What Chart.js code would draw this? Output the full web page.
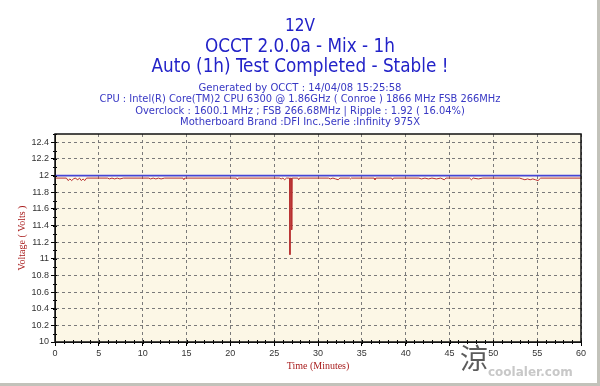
<!DOCTYPE html>
<html>
<head>
<meta charset="utf-8">
<script src="https://cdn.jsdelivr.net/npm/chart.js@4/dist/chart.umd.min.js"></script>
<style>
  html, body { margin: 0; padding: 0; background: #ffffff; }
  canvas { display: block; }
</style>
</head>
<body>
<canvas id="c" width="600" height="386"></canvas>
<script>
// ---------- DATA ----------
const titleLines = ["12V", "OCCT 2.0.0a - Mix - 1h", "Auto (1h) Test Completed - Stable !"];
const infoLines = [
  "Generated by OCCT : 14/04/08 15:25:58",
  "CPU : Intel(R) Core(TM)2 CPU 6300 @ 1.86GHz ( Conroe ) 1866 MHz FSB 266MHz",
  "Overclock : 1600.1 MHz ; FSB 266.68MHz | Ripple : 1.92 ( 16.04%)",
  "Motherboard Brand :DFI Inc.,Serie :Infinity 975X"
];
const xAxisTitle = "Time (Minutes)";
const yAxisTitle = "Voltage ( Volts )";
const xTicks = [0, 5, 10, 15, 20, 25, 30, 35, 40, 45, 50, 55, 60];
const yTicks = [10, 10.2, 10.4, 10.6, 10.8, 11, 11.2, 11.4, 11.6, 11.8, 12, 12.2, 12.4];

const blueTime = [0, 60];
const blueVolts = [12.0, 12.0];

const redTime = [
  0, 1.3, 1.5, 1.7, 1.9, 2.1, 2.3, 2.6, 2.8, 3.0, 3.2, 3.4, 3.6,
  6.0, 6.2, 6.5, 6.8, 7.1, 7.4, 7.8,
  10.7, 10.9, 11.2, 11.5, 11.8, 12.1, 12.5,
  14.6, 14.7, 14.8,
  20.7, 20.8, 20.9,
  25.6, 25.8, 26.0, 26.2, 26.4, 26.75, 26.8, 26.85, 26.95, 27.0, 27.05,
  27.7, 27.8, 27.9,
  31.2, 31.4, 31.7, 32.0, 32.3, 32.5,
  33.6, 33.7, 33.8,
  36.4, 36.5, 36.6,
  38.4, 38.5, 38.6,
  41.5, 41.8, 42.2, 42.6, 43.0, 43.5, 44.0, 44.4, 44.6,
  47.3, 47.5, 47.7, 48.3, 48.8,
  53.0, 53.3, 53.6, 53.9, 54.2, 54.5, 54.8, 55.1, 55.4,
  60
];
const redVolts = [
  11.97, 11.97, 11.94, 11.96, 11.94, 11.96, 11.97, 11.95, 11.97, 11.94, 11.96, 11.94, 11.97,
  11.97, 11.96, 11.97, 11.96, 11.97, 11.96, 11.97,
  11.97, 11.96, 11.97, 11.96, 11.97, 11.96, 11.97,
  11.97, 11.95, 11.97,
  11.97, 11.95, 11.97,
  11.97, 11.96, 11.97, 11.95, 11.97, 11.97, 11.05, 11.97, 11.97, 11.35, 11.97,
  11.97, 11.95, 11.97,
  11.97, 11.96, 11.97, 11.96, 11.95, 11.97,
  11.97, 11.96, 11.97,
  11.97, 11.95, 11.97,
  11.97, 11.95, 11.97,
  11.97, 11.96, 11.97, 11.96, 11.97, 11.96, 11.97, 11.95, 11.97,
  11.97, 11.95, 11.97, 11.96, 11.97,
  11.97, 11.96, 11.95, 11.96, 11.95, 11.96, 11.95, 11.94, 11.97,
  11.97
];

// ---------- LAYOUT / STYLE ----------
const PLOT_LEFT = 55, PLOT_RIGHT = 581, PLOT_TOP = 134, PLOT_BOTTOM = 342;
const titleWidths = [30, 190, 297];
const titleY = [27, 47, 67];
const infoWidths = [203, 401, 330, 240];
const infoY = [88, 99.5, 111, 122.5];
const FONT = '"DejaVu Sans Condensed", "DejaVu Sans", sans-serif';

function fitText(ctx, text, cx, cy, size, target, color) {
  ctx.font = size + 'px ' + FONT;
  const w = ctx.measureText(text).width;
  const s = size * target / w;
  ctx.font = s.toFixed(2) + 'px ' + FONT;
  ctx.fillStyle = color;
  ctx.textAlign = 'center';
  ctx.textBaseline = 'middle';
  ctx.fillText(text, cx, cy);
}

const decor = {
  id: 'decor',
  beforeDraw(chart) {
    const ctx = chart.ctx, a = chart.chartArea;
    ctx.save();
    ctx.fillStyle = '#ffffff';
    ctx.fillRect(0, 0, chart.width, chart.height);
    ctx.fillStyle = '#fcf7e6';
    ctx.fillRect(a.left, a.top, a.right - a.left, a.bottom - a.top);
    ctx.restore();
  },
  afterDraw(chart) {
    const ctx = chart.ctx, a = chart.chartArea;
    const xs = chart.scales.x, ys = chart.scales.y;
    ctx.save();
    // headers
    titleLines.forEach((t, i) => fitText(ctx, t, 300, titleY[i], 16, titleWidths[i], '#2222c8'));
    infoLines.forEach((t, i) => fitText(ctx, t, 300, infoY[i], 10, infoWidths[i], '#3838c4'));
    // minor ticks
    ctx.strokeStyle = '#000';
    ctx.lineWidth = 1;
    ctx.beginPath();
    for (let m = 0; m <= 60; m += 1) {
      const px = Math.round(xs.getPixelForValue(m)) + 0.5;
      ctx.moveTo(px, a.bottom - 2);
      ctx.lineTo(px, a.bottom + 2);
    }
    for (let v = 100; v <= 125; v += 1) {
      const py = Math.round(ys.getPixelForValue(v / 10)) + 0.5;
      ctx.moveTo(a.left - 2, py);
      ctx.lineTo(a.left + 2, py);
    }
    ctx.stroke();
    // frame
    ctx.lineWidth = 1.5;
    ctx.strokeStyle = '#111';
    ctx.strokeRect(a.left, a.top, a.right - a.left, a.bottom - a.top);
    // watermark
    ctx.font = '28px "Noto Sans CJK SC"';
    ctx.fillStyle = 'rgba(50,50,50,0.8)';
    ctx.textAlign = 'center';
    ctx.textBaseline = 'middle';
    ctx.fillText('涼', 474, 358);
    ctx.font = 'bold 12px "DejaVu Sans", sans-serif';
    ctx.fillStyle = '#c8c8c8';
    ctx.textAlign = 'left';
    ctx.fillText('coolaler.com', 488, 373);
    // outer grey frame
    ctx.fillStyle = '#c2c2ba';
    ctx.fillRect(597, 0, 3, 386);
    ctx.fillRect(0, 383, 600, 3);
    ctx.restore();
  }
};

const gridCommon = {
  color: '#7a7a7a',
  lineWidth: 1,
  drawTicks: true,
  tickLength: 4,
  tickColor: '#000',
  tickBorderDash: [],
  tickWidth: 1
};
const borderCommon = { display: true, color: '#111', width: 1, dash: [3, 3] };

new Chart(document.getElementById('c'), {
  type: 'line',
  data: {
    datasets: [
      {
        label: 'ref',
        data: blueTime.map((t, i) => ({ x: t, y: blueVolts[i] })),
        borderColor: '#4646d6',
        borderWidth: 1.6,
        pointRadius: 0,
        tension: 0
      },
      {
        label: '12V',
        data: redTime.map((t, i) => ({ x: t, y: redVolts[i] })),
        borderColor: '#b83030',
        borderWidth: 1,
        pointRadius: 0,
        tension: 0
      }
    ]
  },
  options: {
    responsive: false,
    animation: false,
    events: [],
    layout: { padding: { top: PLOT_TOP, right: 600 - PLOT_RIGHT, left: 0, bottom: 0 } },
    plugins: {
      legend: { display: false },
      title: { display: false },
      tooltip: { enabled: false }
    },
    scales: {
      x: {
        type: 'linear',
        min: 0,
        max: 60,
        afterBuildTicks: (s) => { s.ticks = xTicks.map(v => ({ value: v })); },
        afterFit: (s) => { s.height = 386 - PLOT_BOTTOM; },
        ticks: { color: '#333', font: { family: '"Liberation Sans", Arial, sans-serif', size: 9 }, padding: 2, maxRotation: 0, autoSkip: false },
        grid: gridCommon,
        border: borderCommon,
        title: { display: true, text: xAxisTitle, color: '#a81c1c', font: { family: '"Liberation Serif", serif', size: 10, lineHeight: 1.2 }, padding: { top: 0, bottom: 14 } }
      },
      y: {
        type: 'linear',
        min: 10,
        max: 12.5,
        afterBuildTicks: (s) => { s.ticks = yTicks.map(v => ({ value: v })); },
        afterFit: (s) => { s.width = PLOT_LEFT; },
        ticks: { color: '#333', font: { family: '"Liberation Sans", Arial, sans-serif', size: 9 }, padding: 2, callback: (v) => String(Math.round(v * 10) / 10) },
        grid: gridCommon,
        border: borderCommon,
        title: { display: true, text: yAxisTitle, color: '#a81c1c', font: { family: '"Liberation Serif", serif', size: 10, lineHeight: 1.2 }, padding: { top: 16, bottom: 0 } }
      }
    }
  },
  plugins: [decor]
});
</script>
</body>
</html>
